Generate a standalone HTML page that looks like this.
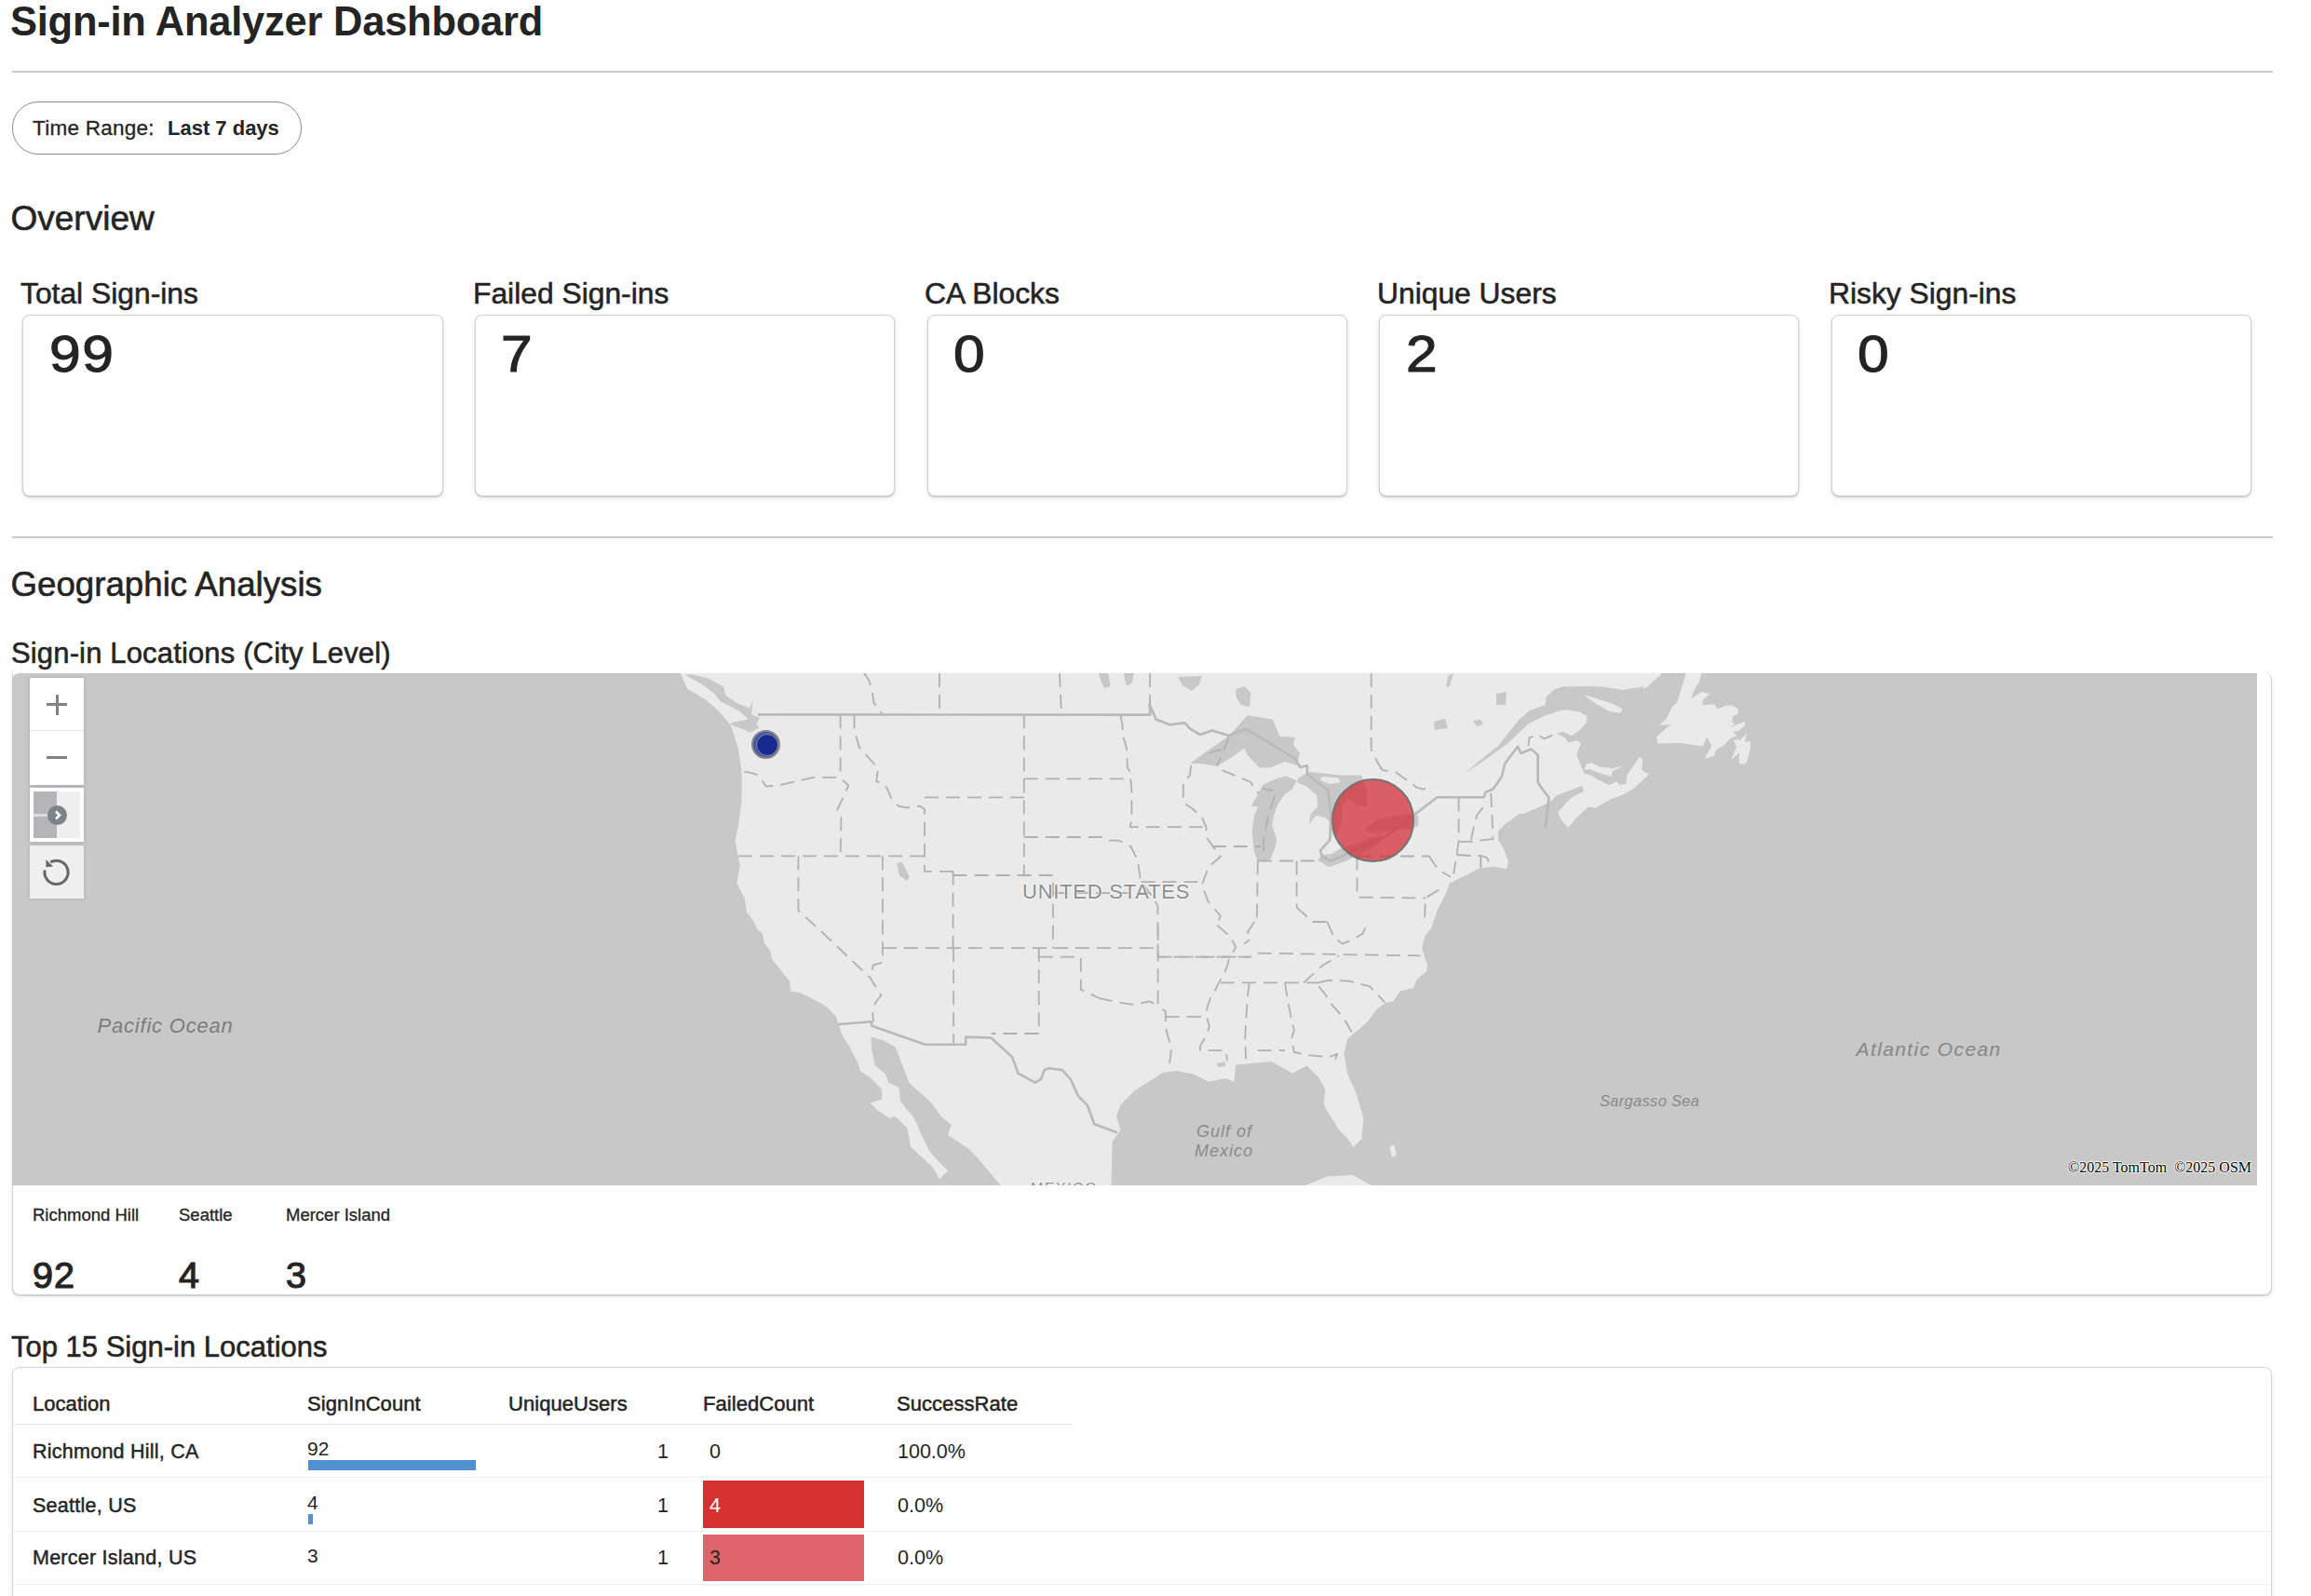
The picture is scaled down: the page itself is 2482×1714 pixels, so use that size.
<!DOCTYPE html>
<html><head><meta charset="utf-8">
<style>
html,body{margin:0;padding:0;background:#fff;width:2482px;height:1714px;overflow:hidden;position:relative}
body{font-family:"Liberation Sans",sans-serif;color:#242424}
.a{position:absolute;white-space:nowrap;line-height:1}
.hr{position:absolute;left:13px;width:2428px;height:2px;background:#c8c8c8}
.card{position:absolute;top:338px;width:449.3px;height:193.3px;border:1px solid #d2d2d2;border-radius:8px;box-shadow:0 1px 1.5px rgba(0,0,0,.2),0 2px 6px rgba(0,0,0,.09);background:#fff}
.lbl{font-size:31.8px;top:300.3px;-webkit-text-stroke:0.55px #242424}
.num{font-size:56px;top:351.6px;-webkit-text-stroke:1.1px #242424;letter-spacing:1.5px;transform:scaleX(1.08);transform-origin:0 0}
.cl{font-size:18.5px;top:1295.6px;-webkit-text-stroke:0.3px #242424}
.cn{font-size:38px;top:1350.6px;-webkit-text-stroke:1.1px #242424;letter-spacing:1px;transform:scaleX(1.04);transform-origin:0 0}
.th{font-size:22px;top:1496.7px;letter-spacing:0.05px;-webkit-text-stroke:0.5px #242424}
.td{font-size:21.5px}
.tl{-webkit-text-stroke:0.45px #242424;letter-spacing:0.25px}
.ml{position:absolute;white-space:nowrap;line-height:1;font-style:italic}
.us{position:absolute;white-space:nowrap;line-height:1;color:#8c8c8c;text-shadow:0 0 2px #fff,0 0 2px #fff,0 0 1px #fff}
.rl{position:absolute;left:14px;width:2425px;height:1px;background:#efefef}
</style></head><body>
<div class="a" style="left:11px;top:1.5px;font-size:43.5px;font-weight:bold;letter-spacing:-0.25px">Sign-in Analyzer Dashboard</div>
<div class="hr" style="top:76px"></div>

<div style="position:absolute;left:13px;top:109px;width:309px;height:55px;border:1px solid #8a8a8a;border-radius:28px"></div>
<div class="a" style="left:35px;top:126.6px;font-size:22.5px;letter-spacing:0.25px;-webkit-text-stroke:0.3px #242424">Time Range:</div>
<div class="a" style="left:180px;top:127px;font-size:22px;font-weight:bold">Last 7 days</div>

<div class="a" style="left:11.5px;top:215.5px;font-size:37px;-webkit-text-stroke:0.6px #242424">Overview</div>

<div class="a lbl" style="left:22px">Total Sign-ins</div>
<div class="a lbl" style="left:508px">Failed Sign-ins</div>
<div class="a lbl" style="left:993px">CA Blocks</div>
<div class="a lbl" style="left:1479px">Unique Users</div>
<div class="a lbl" style="left:1964px">Risky Sign-ins</div>
<div class="card" style="left:24.4px"></div>
<div class="card" style="left:509.8px"></div>
<div class="card" style="left:995.6px"></div>
<div class="card" style="left:1481.2px"></div>
<div class="card" style="left:1966.8px"></div>
<div class="a num" style="left:53px">99</div>
<div class="a num" style="left:538px">7</div>
<div class="a num" style="left:1024px">0</div>
<div class="a num" style="left:1510px">2</div>
<div class="a num" style="left:1995px">0</div>

<div class="hr" style="top:576px"></div>

<div class="a" style="left:11.5px;top:610.4px;font-size:36.7px;-webkit-text-stroke:0.6px #242424">Geographic Analysis</div>
<div class="a" style="left:12px;top:685.7px;font-size:31px;letter-spacing:0.15px;-webkit-text-stroke:0.55px #242424">Sign-in Locations (City Level)</div>

<!-- map container -->
<div style="position:absolute;left:13px;top:723px;width:2425px;height:667px;border:1px solid #d2d2d2;border-top:none;border-radius:0 8px 8px 8px;box-shadow:0 1px 1px rgba(0,0,0,.16),0 2px 6px rgba(0,0,0,.07);background:#fff"></div>
<div id="map" style="position:absolute;left:13px;top:723px;width:2411px;height:550px;background:#c8c8c8;border-radius:8px 0 0 0;overflow:hidden">
<svg width="2411" height="550" viewBox="13 723 2411 550" style="position:absolute;left:0;top:0">
<g fill="#eaeaea" stroke="none">
<polygon points="700.0,690.0 731.6,724.4 737.7,739.3 757.9,751.6 770.2,762.1 784.2,777.9 786.8,784.9 793.0,804.0 796.5,828.8 796.5,860.4 793.0,886.7 789.5,902.5 794.7,930.5 791.2,948.0 800.0,965.6 801.8,979.6 810.0,990.0 812.7,997.3 819.0,1002.7 820.9,1013.6 827.3,1020.9 829.0,1030.0 843.6,1048.2 848.2,1053.6 849.0,1064.5 860.0,1066.3 878.1,1075.4 887.2,1080.9 898.1,1091.8 900.0,1099.0 905.4,1113.6 912.7,1124.5 921.8,1142.7 923.6,1150.0 934.5,1157.2 947.2,1170.0 947.2,1180.8 934.5,1184.5 941.8,1191.7 954.5,1200.8 961.7,1199.0 974.5,1211.7 978.1,1231.7 1001.7,1253.5 1009.0,1266.3 1018.1,1257.2 1005.4,1244.5 998.0,1235.4 989.0,1217.2 981.7,1200.8 967.2,1182.7 965.4,1168.1 954.5,1162.7 950.9,1153.6 940.0,1144.5 936.3,1128.1 935.4,1113.6 949.0,1117.2 961.7,1124.5 976.3,1162.7 996.3,1180.8 1001.7,1186.3 1010.8,1199.0 1021.7,1208.1 1018.1,1219.0 1039.9,1233.5 1049.0,1242.6 1059.9,1255.4 1074.4,1272.6 1080.0,1300.0 1192.0,1300.0 1193.6,1272.6 1194.5,1226.3 1203.6,1213.5 1199.0,1199.0 1203.6,1186.3 1218.2,1171.7 1249.0,1151.8 1263.6,1150.0 1281.8,1153.6 1298.1,1161.8 1316.3,1158.1 1325.4,1161.8 1327.2,1143.6 1365.4,1140.0 1383.6,1150.0 1388.1,1152.7 1403.6,1144.5 1416.3,1157.2 1423.5,1170.0 1421.7,1184.5 1423.5,1190.0 1432.6,1204.5 1438.1,1213.5 1447.2,1222.6 1453.5,1232.6 1462.6,1222.6 1464.4,1200.8 1456.3,1173.6 1447.2,1153.6 1443.5,1131.8 1447.2,1115.4 1469.0,1097.2 1478.1,1084.5 1487.2,1077.2 1496.3,1075.4 1503.5,1064.5 1518.0,1060.9 1521.7,1051.8 1532.6,1042.7 1532.6,1035.4 1527.1,1017.3 1530.8,1004.5 1537.0,997.0 1543.6,978.0 1554.5,956.3 1556.3,949.0 1589.0,932.6 1605.4,930.8 1618.0,933.6 1620.0,925.4 1614.5,910.8 1609.0,901.7 1609.0,892.7 1618.0,883.6 1620.0,882.4 1631.3,874.5 1636.9,873.4 1656.1,865.5 1665.1,861.0 1671.9,854.2 1698.9,844.0 1701.2,849.7 1687.7,856.4 1673.0,872.2 1676.4,880.1 1684.3,889.1 1693.3,877.9 1705.7,866.6 1713.6,867.7 1727.1,859.8 1744.0,853.1 1755.3,846.3 1771.1,831.6 1763.2,827.1 1764.3,815.9 1761.0,812.5 1747.4,832.8 1746.3,841.8 1739.5,842.9 1736.1,839.5 1728.3,842.9 1715.8,837.3 1709.1,832.8 1701.2,830.5 1696.7,819.2 1693.3,810.2 1697.8,797.8 1693.3,795.0 1684.3,797.8 1680.9,792.2 1671.9,787.7 1678.6,786.0 1687.7,789.9 1696.7,784.3 1703.4,776.4 1704.6,769.6 1696.7,764.5 1683.1,762.3 1674.1,763.4 1657.2,769.6 1641.4,777.5 1620.0,797.8 1609.0,806.0 1590.8,819.0 1572.7,830.9 1590.0,816.0 1609.0,801.0 1631.3,773.0 1642.6,762.9 1659.5,757.2 1660.6,748.2 1669.6,740.3 1678.6,737.5 1701.2,736.9 1721.5,737.5 1742.9,740.9 1766.6,736.9 1783.5,725.1 1790.0,700.0"/>
<polygon points="1812.7,715.0 1829.3,715.0 1825.1,731.7 1819.6,740.7 1816.2,750.3 1827.9,742.7 1836.2,745.5 1828.6,751.7 1828.6,757.2 1841.7,756.5 1844.4,761.4 1852.7,757.9 1859.6,757.2 1867.2,761.4 1866.5,766.2 1861.0,769.6 1860.3,775.1 1863.1,777.2 1857.5,781.3 1873.4,775.1 1874.8,778.6 1867.9,784.8 1861.7,786.2 1865.1,790.3 1858.2,793.1 1852.7,799.3 1842.4,806.2 1841.0,811.7 1832.0,815.1 1831.3,813.0 1838.2,801.3 1833.4,791.7 1828.6,801.3 1804.5,797.9 1780.3,798.6 1779.0,791.7 1790.7,780.7 1795.5,778.6 1781.7,778.6 1789.3,772.4 1796.2,758.6 1801.0,754.5 1808.6,730.3"/>
<polygon points="1861.7,794.4 1869.3,794.4 1876.1,787.5 1874.0,797.0 1879.6,795.8 1880.3,802.7 1875.5,819.9 1867.9,820.6 1867.9,808.2 1858.9,816.5 1865.1,802.0"/>
<polygon points="1765.0,715.0 1784.0,715.0 1784.0,723.8 1770.0,737.0 1765.0,740.0"/>
<polygon points="1701.2,745.9 1715.8,750.4 1732.8,756.1 1742.9,761.7 1739.5,765.7 1728.3,764.0 1714.7,756.1 1704.6,749.3"/>
<polygon points="1706.8,813.6 1703.4,820.4 1709.1,819.2 1719.2,823.7 1732.8,824.9 1744.0,822.6 1731.6,828.3 1730.5,833.9 1726.0,832.8 1715.8,829.4 1706.8,826.0 1701.2,827.1"/>
<polygon points="1401.7,1273.0 1425.4,1263.5 1452.6,1261.7 1472.6,1273.0 1472.6,1290.0 1401.0,1290.0"/>
<polygon points="1492.6,1232.0 1497.0,1229.0 1500.0,1240.0 1495.0,1243.0"/>
</g><g fill="#c8c8c8" stroke="none">
<polygon points="743.9,724.4 761.4,728.8 777.2,737.5 779.0,746.3 791.2,755.1 805.3,760.4 808.8,751.6 807.0,767.4 815.8,770.9 812.3,777.9 815.8,781.4 805.3,786.7 798.2,783.2 784.2,777.9 786.0,776.0 803.5,772.6 794.7,763.9 773.7,753.3 766.7,744.6 752.6,734.0 735.0,724.4"/>
<polygon points="1278.0,820.0 1298.0,805.4 1319.9,790.0 1339.9,768.2 1367.1,772.7 1374.4,790.9 1390.8,791.8 1389.0,800.0 1396.2,809.0 1392.6,821.8 1379.9,818.1 1363.5,824.5 1352.6,824.5 1339.9,810.9 1336.2,803.6 1323.5,812.7 1307.2,822.7 1289.0,820.0"/>
<polygon points="1381.4,833.5 1392.6,838.2 1387.9,847.6 1379.5,853.2 1372.0,864.5 1368.2,875.8 1366.3,887.1 1371.0,900.2 1370.1,908.7 1364.4,922.8 1350.3,924.2 1346.6,913.4 1344.7,892.7 1347.0,876.0 1351.3,866.4 1343.8,865.5 1350.0,855.0 1356.0,842.9 1368.2,837.3"/>
<polygon points="1392.6,840.1 1394.5,835.4 1405.8,828.8 1438.7,832.6 1462.2,832.6 1468.0,850.0 1468.0,866.0 1458.0,866.0 1449.0,858.0 1441.0,866.0 1441.0,882.0 1437.0,895.0 1431.0,897.0 1428.0,884.0 1427.4,881.4 1422.7,877.7 1413.3,875.8 1405.8,885.2 1407.7,873.9 1415.2,866.4 1414.3,854.2 1403.9,844.8"/>
<polygon points="1415.2,923.7 1427.4,931.2 1443.4,925.6 1460.0,918.0 1475.0,910.0 1484.0,903.0 1482.0,897.0 1470.0,900.0 1455.0,907.0 1443.4,909.0 1430.2,917.0 1420.0,918.0"/>
<polygon points="1466.0,888.0 1471.6,885.2 1481.0,879.5 1512.0,873.9 1523.3,876.0 1523.3,887.1 1515.8,889.9 1495.0,891.0 1480.0,895.0 1468.0,894.0"/>
<polygon points="1180.0,723.0 1190.0,723.0 1192.6,737.0 1186.0,739.0 1182.0,730.0"/>
<polygon points="1207.0,723.0 1218.0,723.0 1216.0,733.0 1210.0,737.0 1208.0,730.0"/>
<polygon points="1265.0,727.0 1290.8,726.0 1288.0,735.0 1280.0,741.8 1270.0,736.0"/>
<polygon points="1327.0,740.0 1337.0,737.0 1343.5,745.0 1342.0,759.0 1333.0,757.0 1328.0,750.0"/>
<polygon points="1555.0,726.0 1561.0,723.0 1557.0,737.0 1553.0,738.0"/>
<polygon points="1607.0,745.0 1618.0,743.0 1617.0,757.0 1607.0,757.0"/>
<polygon points="1582.0,774.0 1590.0,772.7 1593.0,778.0 1586.0,780.0"/>
<polygon points="1540.0,775.0 1552.0,772.0 1555.0,782.0 1541.0,784.0"/>
<polygon points="963.0,927.0 969.0,926.0 977.0,942.0 974.0,946.0 966.0,940.0"/>
<polygon points="1307.0,1142.0 1316.0,1140.0 1316.0,1145.0 1308.0,1146.0"/>
<polygon fill="#eaeaea" points="1420.0,834.0 1437.0,835.5 1440.0,840.0 1428.0,842.0 1418.0,838.0"/>
</g>
<g fill="none" stroke="#b3b0ae" stroke-width="1.8" stroke-dasharray="15,8" stroke-linejoin="round">
<polyline points="799.1,828.8 805.3,829.6 814.0,832.3 822.8,844.6 838.6,842.8 873.7,834.9 901.8,834.9 911.4,843.7 899.1,870.0 903.5,877.9 902.6,919.0"/>
<polyline points="902.6,767.4 902.6,828.8"/>
<polyline points="917.5,767.4 917.5,783.2 922.8,802.5 938.6,820.0 943.0,825.3 941.2,839.3 948.2,841.0 952.6,846.3 957.9,858.6 964.9,865.6 973.7,867.4 987.7,865.6 993.0,869.1 993.0,935.8 1023.6,935.8"/>
<polyline points="793.0,919.3 993.0,919.3"/>
<polyline points="857.4,919.3 857.4,978.0 880.7,999.0 934.5,1050.0 946.3,1069.0 940.0,1077.0 937.2,1086.3 938.0,1097.0"/>
<polyline points="947.9,919.3 947.9,1033.6 938.0,1036.3 934.5,1050.0"/>
<polyline points="947.9,1018.2 1243.6,1018.2 1243.6,1027.6 1343.6,1027.6"/>
<polyline points="1350.8,1023.6 1525.3,1026.4"/>
<polyline points="1024.1,1018.2 1024.1,1120.9"/>
<polyline points="1023.6,935.8 1023.6,1018.2"/>
<polyline points="1023.6,940.0 1130.9,940.0 1130.9,1018.2"/>
<polyline points="993.0,856.3 1099.8,856.3"/>
<polyline points="1099.8,767.6 1099.8,940.0"/>
<polyline points="1099.8,836.3 1212.6,836.3"/>
<polyline points="1203.6,769.0 1205.4,778.2 1206.3,790.9 1210.0,803.6 1210.8,823.6 1213.6,829.0 1215.4,849.0 1215.4,880.0 1213.6,888.1 1295.3,888.1"/>
<polyline points="1099.8,899.0 1183.6,899.0 1190.8,902.7 1201.7,902.7 1214.5,909.0 1221.7,923.6 1225.4,947.2 1235.0,959.0"/>
<polyline points="1130.9,959.0 1235.0,959.0 1243.5,972.6 1243.5,1018.2"/>
<polyline points="1225.4,947.2 1289.0,947.2"/>
<polyline points="1279.0,821.8 1278.0,832.7 1270.8,840.0 1270.8,861.8 1280.0,868.0 1290.8,877.2 1295.3,888.1 1296.3,900.0 1310.8,920.0 1298.0,930.8 1290.8,950.8 1298.0,969.0 1310.8,983.5 1307.2,993.6"/>
<polyline points="1301.7,909.0 1354.4,909.0"/>
<polyline points="1312.6,827.2 1343.5,840.0 1347.1,847.2 1352.0,852.0"/>
<polyline points="1350.8,924.5 1350.0,983.5 1347.2,990.0"/>
<polyline points="1392.6,924.5 1392.6,974.5"/>
<polyline points="1350.8,924.5 1419.8,924.5"/>
<polyline points="1457.5,919.5 1457.5,963.5 1531.0,964.5"/>
<polyline points="1458.0,919.5 1534.5,919.5"/>
<polyline points="1480.0,819.4 1484.7,826.9 1499.8,829.7 1507.3,835.4 1514.8,840.1 1521.4,845.7 1528.0,847.6 1535.5,845.7"/>
<polyline points="1243.6,994.5 1243.6,1080.9 1251.8,1086.3 1251.8,1102.7 1254.5,1113.6 1258.2,1124.5 1256.3,1140.9 1254.5,1148.1"/>
<polyline points="1243.6,1027.6 1343.6,1027.6"/>
<polyline points="1307.2,993.6 1321.8,1006.4 1327.2,1017.3 1320.0,1030.0 1318.0,1037.3 1314.5,1046.3 1309.0,1055.4 1305.4,1062.7 1300.0,1071.8 1296.3,1082.7 1296.3,1093.6 1299.0,1102.7 1294.5,1113.6 1289.0,1123.6 1289.0,1128.1 1316.3,1128.1 1318.1,1139.0"/>
<polyline points="1310.9,1055.4 1416.3,1055.4"/>
<polyline points="1341.8,1055.4 1340.0,1070.0 1338.1,1095.4 1337.2,1117.2 1338.1,1137.2"/>
<polyline points="1380.0,1055.4 1383.6,1077.2 1387.2,1095.4 1389.9,1106.3 1387.2,1115.4 1389.9,1130.0 1401.7,1132.7 1427.2,1135.4 1436.3,1131.8 1433.5,1139.0"/>
<polyline points="1350.8,1128.1 1380.0,1128.1"/>
<polyline points="1416.3,1059.1 1423.5,1068.2 1429.0,1077.2 1441.7,1091.8 1445.4,1097.2 1452.6,1110.0"/>
<polyline points="1416.3,1055.4 1427.2,1052.7 1449.0,1053.6 1470.8,1059.1 1487.2,1076.3"/>
<polyline points="1400.0,1055.4 1419.9,1037.3 1438.1,1026.4"/>
<polyline points="1180.0,1071.8 1196.4,1075.4 1205.4,1077.2 1218.2,1079.0 1234.5,1075.4 1245.4,1080.9"/>
<polyline points="1251.8,1091.8 1292.7,1091.8"/>
<polyline points="1116.0,1027.6 1160.8,1027.6 1160.8,1062.7 1180.0,1071.8"/>
<polyline points="1115.7,1018.2 1115.7,1110.0 1064.8,1110.0"/>
<polyline points="1425.4,990.0 1432.6,1006.4 1441.7,1013.6 1454.5,1008.2 1463.5,1002.7 1469.0,990.0"/>
<polyline points="1392.6,974.5 1410.0,990.0 1425.4,990.0"/>
<polyline points="1347.2,990.0 1340.0,1001.0 1343.6,1008.2 1336.3,1013.6"/>
<polyline points="1298.0,809.0 1309.0,805.4 1314.6,805.4"/>
<polyline points="1320.0,791.8 1307.0,822.7"/>
<polyline points="1356.0,847.0 1367.0,849.0"/>
<polyline points="1369.0,854.5 1361.7,878.0 1357.0,901.7 1358.0,923.6"/>
<polyline points="1566.6,856.3 1566.6,903.9 1564.4,918.0 1561.2,938.5"/>
<polyline points="1592.6,867.1 1586.1,875.8 1581.7,893.1 1579.6,903.9"/>
<polyline points="1601.2,852.0 1602.3,871.4 1603.4,899.6"/>
<polyline points="1566.6,903.9 1579.6,903.9 1605.5,900.7"/>
<polyline points="1564.4,918.0 1579.6,919.0 1590.4,919.0 1596.9,921.2 1599.0,925.5"/>
<polyline points="1590.4,919.0 1590.4,932.0"/>
<polyline points="1534.5,919.0 1540.0,927.2 1545.4,934.5 1558.0,941.7"/>
<polyline points="1545.4,955.4 1530.9,964.5 1530.0,989.0"/>
<polyline points="928.0,723.0 933.3,730.5 936.8,742.8 938.6,755.1 945.6,763.9 947.4,767.4"/>
<polyline points="1009.0,723.0 1009.0,767.0"/>
<polyline points="1138.0,723.0 1140.0,767.0"/>
<polyline points="1235.0,723.0 1235.0,756.0"/>
<polyline points="1472.7,723.0 1472.7,805.0 1480.0,820.0"/>
<polyline points="1641.4,801.2 1642.6,792.2 1647.0,791.0"/>
<polyline points="1653.8,790.5 1658.3,793.3 1671.9,787.7"/>
</g>
<g fill="none" stroke="#bcb8b7" stroke-width="2.6" stroke-linejoin="round">
<polyline points="814.0,767.4 1235.4,767.6 1234.5,756.3 1241.7,772.7 1256.3,778.2 1272.6,776.3 1278.0,782.7 1289.0,789.0 1301.7,784.5 1319.9,790.0 1338.0,782.7 1390.8,814.5 1396.4,824.1 1403.9,822.2 1403.9,831.6 1411.4,837.3 1426.5,848.5 1429.3,875.8 1428.3,902.1 1418.0,913.4 1419.9,920.0 1429.3,924.7 1448.1,916.2 1490.0,897.0 1520.5,873.9 1543.6,856.3 1593.6,856.3 1595.4,850.9 1603.6,847.2 1612.6,834.5 1616.3,820.0 1630.0,801.8 1633.5,809.0 1644.5,804.5 1651.7,810.9 1651.7,840.0 1656.3,847.2 1663.5,856.3 1659.5,890.0"/>
<polyline points="900.0,1100.0 936.3,1097.2 936.3,1101.8 993.6,1121.8 1037.2,1121.8 1037.2,1113.6 1064.4,1114.5 1087.2,1135.4 1093.5,1152.7 1111.7,1162.7 1118.0,1159.0 1121.7,1149.0 1126.2,1147.2 1140.8,1149.0 1149.9,1159.0 1158.0,1177.2 1168.0,1187.2 1175.3,1207.2 1199.9,1216.3"/>
</g>
</svg>
<div class="ml" style="left:91.5px;top:367.7px;font-size:22px;letter-spacing:0.8px;color:#7b7b7b">Pacific Ocean</div>
<div class="ml" style="left:1980.5px;top:392.8px;font-size:21px;letter-spacing:1.4px;color:#868686">Atlantic Ocean</div>
<div class="ml" style="left:1705px;top:451px;font-size:16.5px;letter-spacing:0.3px;color:#898989">Sargasso Sea</div>
<div class="ml" style="left:1272px;top:482.6px;font-size:18px;letter-spacing:1px;color:#8a8a8a">Gulf of</div>
<div class="ml" style="left:1270px;top:503.5px;font-size:18px;letter-spacing:1px;color:#8a8a8a">Mexico</div>
<div class="us" style="left:1085px;top:223.8px;font-size:22px;letter-spacing:0.75px">UNITED STATES</div>
<div class="us" style="left:1094px;top:546px;font-size:16px;letter-spacing:1.5px">MEXICO</div>
<!-- markers -->
<div style="position:absolute;left:793.6px;top:60.8px;width:31.5px;height:31.5px;border-radius:50%;background:#4655a8;border:2px solid #858585;box-sizing:border-box"></div>
<div style="position:absolute;left:798.9px;top:65.1px;width:24px;height:24px;border-radius:50%;background:#172a90;border:1.6px solid #8f8f98;box-sizing:border-box"></div>
<div style="position:absolute;left:1416.8px;top:113.1px;width:89.5px;height:89.5px;border-radius:50%;background:rgba(212,36,48,0.71);border:2px solid #737373;box-sizing:border-box"></div>
<!-- controls -->
<div style="position:absolute;left:19px;top:5px;width:58px;height:115px;background:#fff;box-shadow:0 0 4px rgba(0,0,0,.18)"></div>
<div style="position:absolute;left:19px;top:61px;width:58px;height:1px;background:#e6e6e6"></div>
<div style="position:absolute;left:37px;top:32px;width:22px;height:3px;background:#7d8389"></div>
<div style="position:absolute;left:46.5px;top:23px;width:3px;height:22px;background:#7d8389"></div>
<div style="position:absolute;left:37px;top:89px;width:22px;height:3px;background:#7d8389"></div>
<div style="position:absolute;left:19px;top:123px;width:58px;height:58px;background:#fff;box-shadow:0 0 4px rgba(0,0,0,.18)"></div>
<div style="position:absolute;left:23px;top:127px;width:50px;height:50px;background:#efefef;overflow:hidden">
  <div style="position:absolute;left:0;top:0;width:25px;height:50px;background:#b4b4b9"></div>
  <div style="position:absolute;left:0;top:24px;width:25px;height:3px;background:#dcdcdc"></div>
</div>
<div style="position:absolute;left:38px;top:142px;width:21px;height:21px;border-radius:50%;background:#7d8389"></div>
<svg style="position:absolute;left:38px;top:142px" width="21" height="21" viewBox="0 0 21 21"><path d="M9 6.5 L13 10.5 L9 14.5" fill="none" stroke="#fff" stroke-width="2.6"/></svg>
<div style="position:absolute;left:19px;top:185px;width:58px;height:57px;background:#efefef;box-shadow:0 0 4px rgba(0,0,0,.14)"></div>
<svg style="position:absolute;left:19px;top:185px" width="58" height="57" viewBox="0 0 58 57"><path d="M16.1 26.6 A12.6 12.6 0 1 0 22.2 17.9" fill="none" stroke="#666" stroke-width="3"/><path d="M17.4 15.2 L25 22.6 L17.4 23.2 Z" fill="#666"/></svg>
<div style="position:absolute;right:0;bottom:10.5px;font-family:'Liberation Serif',serif;font-size:16px;color:#000;text-shadow:0 1px 0 #fff,1px 0 0 #fff,0 -1px 0 #fff,-1px 0 0 #fff;white-space:nowrap;padding-right:6px">©2025 TomTom&nbsp;&nbsp;©2025 OSM</div>

</div>

<div class="a cl" style="left:35px">Richmond Hill</div>
<div class="a cl" style="left:192px">Seattle</div>
<div class="a cl" style="left:307px">Mercer Island</div>
<div class="a cn" style="left:35px">92</div>
<div class="a cn" style="left:192px">4</div>
<div class="a cn" style="left:307px">3</div>

<div class="a" style="left:12px;top:1430.6px;font-size:31px;-webkit-text-stroke:0.55px #242424">Top 15 Sign-in Locations</div>

<!-- table -->
<div style="position:absolute;left:13px;top:1468px;width:2425px;height:300px;border:1px solid #d6d6d6;border-radius:8px;background:#fff;box-shadow:0 1px 1px rgba(0,0,0,.14),0 2px 6px rgba(0,0,0,.07)"></div>
<div class="a th" style="left:35px">Location</div>
<div class="a th" style="left:330px">SignInCount</div>
<div class="a th" style="left:546px">UniqueUsers</div>
<div class="a th" style="left:755px">FailedCount</div>
<div class="a th" style="left:963px">SuccessRate</div>
<div style="position:absolute;left:14px;top:1529px;width:1138px;height:1px;background:#e8e8e8"></div>
<div class="rl" style="top:1586px"></div>
<div class="rl" style="top:1644px"></div>
<div class="rl" style="top:1701px"></div>

<div class="a td tl" style="left:35px;top:1548.6px">Richmond Hill, CA</div>
<div class="a td tl" style="left:35px;top:1607px">Seattle, US</div>
<div class="a td tl" style="left:35px;top:1663.4px">Mercer Island, US</div>

<div class="a" style="left:330px;top:1545px;font-size:21px">92</div>
<div style="position:absolute;left:331px;top:1568px;width:180px;height:11px;background:#5091d4"></div>
<div class="a" style="left:330px;top:1603px;font-size:21px">4</div>
<div style="position:absolute;left:331px;top:1626px;width:5px;height:11px;background:#5091d4"></div>
<div class="a" style="left:330px;top:1660px;font-size:21px">3</div>

<div class="a td" style="left:706px;top:1548.6px">1</div>
<div class="a td" style="left:706px;top:1607px">1</div>
<div class="a td" style="left:706px;top:1663.4px">1</div>

<div class="a td" style="left:762px;top:1548.6px">0</div>
<div style="position:absolute;left:755px;top:1590px;width:173px;height:50.5px;background:#d63031"></div>
<div class="a td" style="left:762px;top:1607px;color:#fff">4</div>
<div style="position:absolute;left:755px;top:1648px;width:173px;height:49.5px;background:#e0636b"></div>
<div class="a td" style="left:762px;top:1663.4px">3</div>

<div class="a td" style="left:964px;top:1548.6px">100.0%</div>
<div class="a td" style="left:964px;top:1607px">0.0%</div>
<div class="a td" style="left:964px;top:1663.4px">0.0%</div>
</body></html>
